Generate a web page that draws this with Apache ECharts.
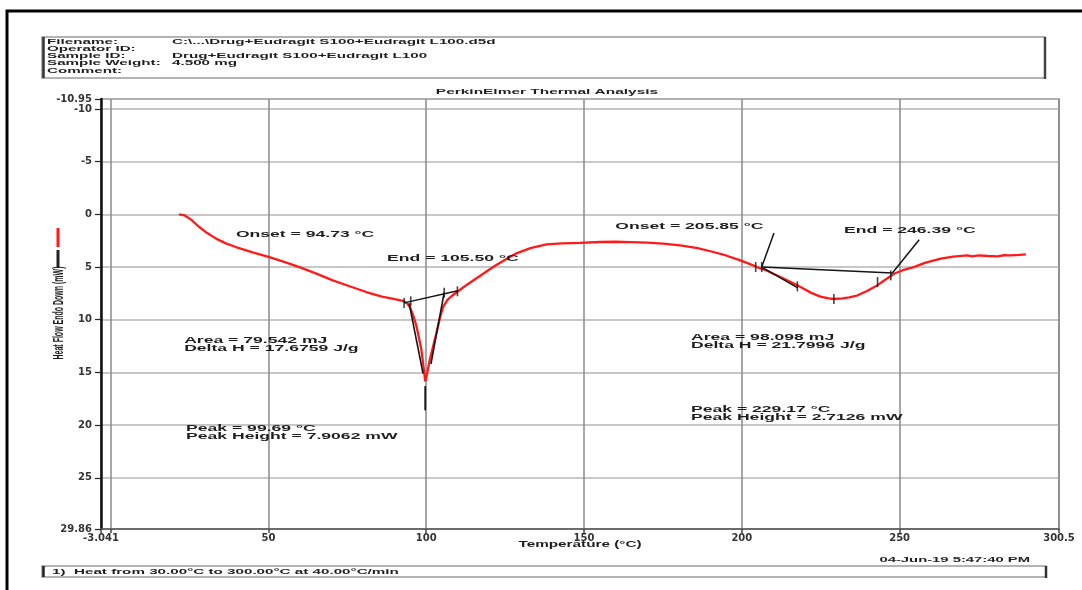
<!DOCTYPE html>
<html>
<head>
<meta charset="utf-8">
<script src="https://cdn.jsdelivr.net/npm/echarts@6/dist/echarts.min.js"></script>
<style>
  html, body { margin: 0; padding: 0; background: #fff; }
  #chart { width: 1082px; height: 590px; }
</style>
</head>
<body>
<div id="chart"></div>
<script>
// Axis ranges and tick values
const xRange = [-3.041, 300.5];
const yRange = [-10.95, 29.86];
const xTickLabels = [-3.041, 50, 100, 150, 200, 250, 300.5];
const xGridValues = [-3.041, 0, 50, 100, 150, 200, 250, 300.5];
const yTickLabels = [-10.95, -10, -5, 0, 5, 10, 15, 20, 25, 29.86];

// DSC trace: [temperature °C, heat flow mW] (endo down)
const heatFlow = [
  [21.7, 0.0], [23.5, 0.1], [25.5, 0.5], [28.1, 1.2], [30.5, 1.75], [33.4, 2.3],
  [36.5, 2.75], [39.7, 3.1], [45.0, 3.6], [50.3, 4.05], [55.0, 4.5], [59.8, 5.0],
  [65.0, 5.6], [70.4, 6.26], [75.5, 6.8], [81.0, 7.37], [86.0, 7.8], [90.0, 8.05],
  [92.6, 8.2], [94.0, 8.45], [95.0, 8.9], [96.0, 9.7], [96.9, 10.6], [97.7, 11.7],
  [98.5, 12.9], [99.2, 14.6], [99.69, 15.86], [100.3, 15.1], [101.1, 13.85],
  [102.2, 12.5], [103.2, 11.3], [104.3, 9.9], [105.3, 8.8], [106.8, 8.1],
  [108.5, 7.65], [110.5, 7.2], [112.8, 6.7], [117.0, 5.85], [121.2, 5.0],
  [125.0, 4.3], [128.6, 3.7], [133.0, 3.2], [138.1, 2.85], [143.0, 2.75],
  [148.7, 2.7], [155.0, 2.62], [160.0, 2.6], [164.6, 2.63], [170.0, 2.68],
  [175.0, 2.78], [180.5, 2.94], [186.0, 3.2], [191.0, 3.57], [195.0, 3.9],
  [199.5, 4.36], [202.0, 4.65], [204.8, 5.0], [208.0, 5.35], [212.2, 5.95],
  [215.0, 6.35], [218.6, 6.9], [222.0, 7.45], [224.9, 7.8], [227.5, 7.98],
  [229.17, 8.03], [232.0, 7.97], [234.0, 7.87], [236.5, 7.7], [239.5, 7.3],
  [242.9, 6.74], [245.0, 6.3], [248.2, 5.63], [251.0, 5.3], [254.5, 5.0],
  [258.0, 4.6], [263.0, 4.2], [267.0, 4.0], [271.5, 3.89], [273.0, 3.98],
  [275.0, 3.9], [278.0, 3.95], [281.0, 3.98], [283.0, 3.88], [285.0, 3.9],
  [288.0, 3.85], [290.0, 3.8]
];

// Peak analysis constructions (baselines, tangents, leader lines)
const peak1Baseline = [[93.0, 8.40], [110.0, 7.25]];
const peak1LeftTangent = [[94.6, 8.45], [99.0, 15.1]];
const peak1RightTangent = [[105.7, 7.40], [101.5, 14.2]];
const peak1Drop = [[99.69, 16.3], [99.69, 18.6]];
const peak2Onset = [[210.2, 1.77], [206.3, 5.0], [217.6, 6.95]];
const peak2Baseline = [[206.3, 5.0], [247.7, 5.57]];
const peak2End = [[256.2, 2.4], [247.7, 5.57]];
const analysisMarks = [
  [93.0, 8.40], [95.1, 8.25], [105.7, 7.45], [109.9, 7.30],
  [204.4, 5.0], [206.3, 5.0], [217.6, 6.83], [229.17, 8.03], [243.0, 6.42], [247.2, 5.79]
];

// Result annotations: [temperature, heat flow, text]
const annotations = [
  [39.7, 1.90, 'Onset = 94.73 °C'],
  [87.6, 4.17, 'End = 105.50 °C'],
  [23.3, 12.33, 'Area = 79.542 mJ\nDelta H = 17.6759 J/g'],
  [23.9, 20.70, 'Peak = 99.69 °C\nPeak Height = 7.9062 mW'],
  [159.9, 1.14, 'Onset = 205.85 °C'],
  [232.4, 1.52, 'End = 246.39 °C'],
  [183.9, 12.05, 'Area = 98.098 mJ\nDelta H = 21.7996 J/g'],
  [183.9, 18.90, 'Peak = 229.17 °C\nPeak Height = 2.7126 mW']
];

// Run information block
const headerLabels = ['Filename:', 'Operator ID:', 'Sample ID:', 'Sample Weight:', 'Comment:'];
const headerValues = ['C:\\...\\Drug+Eudragit S100+Eudragit L100.d5d', '', 'Drug+Eudragit S100+Eudragit L100', '4.500 mg', ''];
const chartTitle = 'PerkinElmer Thermal Analysis';
const xTitle = 'Temperature (°C)';
const yTitle = 'Heat Flow Endo Down (mW)';
const runDate = '04-Jun-19 5:47:40 PM';
const methodText = '1)  Heat from 30.00°C to 300.00°C at 40.00°C/min';

const FONT = '"Liberation Sans", Arial, sans-serif';
const INK = '#1e1e1e';

function fmt(v) { return String(v); }

// Horizontally widened text, as printed by the instrument software
function wideText(text, x, y, size, opts) {
  opts = opts || {};
  return {
    type: 'text', x: x, y: y,
    scaleX: opts.scaleX || 1.95, scaleY: opts.scaleY || 1,
    rotation: opts.rotation || 0,
    silent: true, z: 50,
    style: {
      text: text,
      font: 'bold ' + size + 'px ' + FONT,
      fill: opts.fill || INK,
      align: opts.align || 'left',
      verticalAlign: 'middle',
      lineHeight: opts.lineHeight || size
    }
  };
}

const chart = echarts.init(document.getElementById('chart'), null, { renderer: 'canvas' });

function lineSeries(data, color, width) {
  return {
    type: 'line', data: data, showSymbol: false, symbol: 'none',
    lineStyle: { color: color, width: width }, silent: true, animation: false, z: 5
  };
}

chart.setOption({
  animation: false,
  backgroundColor: '#ffffff',
  grid: {
    left: 101, right: 23, top: 99, bottom: 61,
    show: true, borderColor: '#8c8c8c', borderWidth: 1.5, backgroundColor: 'transparent'
  },
  xAxis: {
    type: 'value', min: xRange[0], max: xRange[1],
    axisLine: { show: true, onZero: false, lineStyle: { color: '#555', width: 1.5 } },
    axisTick: { show: true, length: 4, customValues: xGridValues, lineStyle: { color: '#444', width: 1.5 } },
    axisLabel: {
      customValues: xTickLabels, formatter: fmt, margin: 4,
      fontFamily: 'DejaVu Sans', fontWeight: 'bold', fontSize: 10, color: '#333'
    },
    splitLine: { show: true, lineStyle: { color: '#8a8a8a', width: 1.5 } }
  },
  yAxis: {
    type: 'value', inverse: true, min: yRange[0], max: yRange[1],
    axisLine: { show: true, onZero: false, lineStyle: { color: '#111', width: 2.5 } },
    axisTick: { show: true, length: 6, customValues: yTickLabels, lineStyle: { color: '#222', width: 1.2 } },
    axisLabel: {
      customValues: yTickLabels, formatter: fmt, margin: 9,
      fontFamily: 'DejaVu Sans', fontWeight: 'bold', fontSize: 10, color: '#333'
    },
    splitLine: { show: true, lineStyle: { color: '#b4b4b4', width: 1.5 } }
  },
  series: [
    Object.assign(lineSeries(heatFlow, '#ff1a1a', 2.3), { z: 4 }),
    lineSeries(peak1Baseline, '#151515', 1.4),
    lineSeries(peak1LeftTangent, '#151515', 1.6),
    lineSeries(peak1RightTangent, '#151515', 1.6),
    lineSeries(peak1Drop, '#151515', 1.8),
    lineSeries(peak2Onset, '#151515', 1.5),
    lineSeries(peak2Baseline, '#151515', 1.4),
    lineSeries(peak2End, '#151515', 1.5),
    {
      type: 'scatter', data: analysisMarks, symbol: 'rect', symbolSize: [1.6, 10],
      itemStyle: { color: '#151515' }, silent: true, z: 6
    }
  ]
});

// Free text and page furniture
const g = [];
// outer frame
g.push({ type: 'polyline', silent: true, shape: { points: [[7, 600], [7, 11], [1090, 11]] },
  style: { stroke: '#000', lineWidth: 3, fill: null } });
// run information box
g.push({ type: 'rect', silent: true, shape: { x: 42, y: 37, width: 1003, height: 41 },
  style: { stroke: '#9a9a9a', lineWidth: 1.5, fill: null } });
g.push({ type: 'line', silent: true, shape: { x1: 43.5, y1: 37, x2: 43.5, y2: 78 }, style: { stroke: '#333', lineWidth: 2.5 } });
g.push({ type: 'line', silent: true, shape: { x1: 1045, y1: 37, x2: 1045, y2: 79 }, style: { stroke: '#444', lineWidth: 2.5 } });
const headerY = [42, 49, 56, 63, 70.5];
headerLabels.forEach(function (t, i) { g.push(wideText(t, 47, headerY[i], 8, { scaleX: 1.9 })); });
headerValues.forEach(function (t, i) { if (t) g.push(wideText(t, 172, headerY[i], 8, { scaleX: 1.9 })); });
// title
g.push(wideText(chartTitle, 547, 92, 8, { align: 'center', scaleX: 1.93 }));
// axis titles
g.push(wideText(xTitle, 580, 545, 8.5, { align: 'center', scaleX: 1.8 }));
g.push(wideText(yTitle, 59, 313, 7, { align: 'center', rotation: Math.PI / 2, scaleX: 1, scaleY: 2.0 }));
// trace key beside the y title
g.push({ type: 'line', silent: true, shape: { x1: 58, y1: 228, x2: 58, y2: 247 }, style: { stroke: '#ff1a1a', lineWidth: 3 } });
g.push({ type: 'line', silent: true, shape: { x1: 58, y1: 250, x2: 58, y2: 268 }, style: { stroke: '#222', lineWidth: 3 } });
// date stamp and method box
g.push(wideText(runDate, 1030, 560, 8, { align: 'right', scaleX: 1.85 }));
g.push({ type: 'rect', silent: true, shape: { x: 42, y: 566, width: 1004, height: 11 },
  style: { stroke: '#9a9a9a', lineWidth: 1.5, fill: null } });
g.push({ type: 'line', silent: true, shape: { x1: 43.5, y1: 566, x2: 43.5, y2: 577 }, style: { stroke: '#222', lineWidth: 2.5 } });
g.push({ type: 'line', silent: true, shape: { x1: 1046, y1: 566, x2: 1046, y2: 578 }, style: { stroke: '#333', lineWidth: 2.5 } });
g.push(wideText(methodText, 52, 571.5, 8, { scaleX: 1.9 }));

// analysis results placed in data coordinates
annotations.forEach(function (a) {
  const p = chart.convertToPixel({ gridIndex: 0 }, [a[0], a[1]]);
  g.push(wideText(a[2], p[0], p[1], 9.5, { scaleX: 1.85, lineHeight: 8 }));
});

chart.setOption({ graphic: g });
</script>
</body>
</html>
